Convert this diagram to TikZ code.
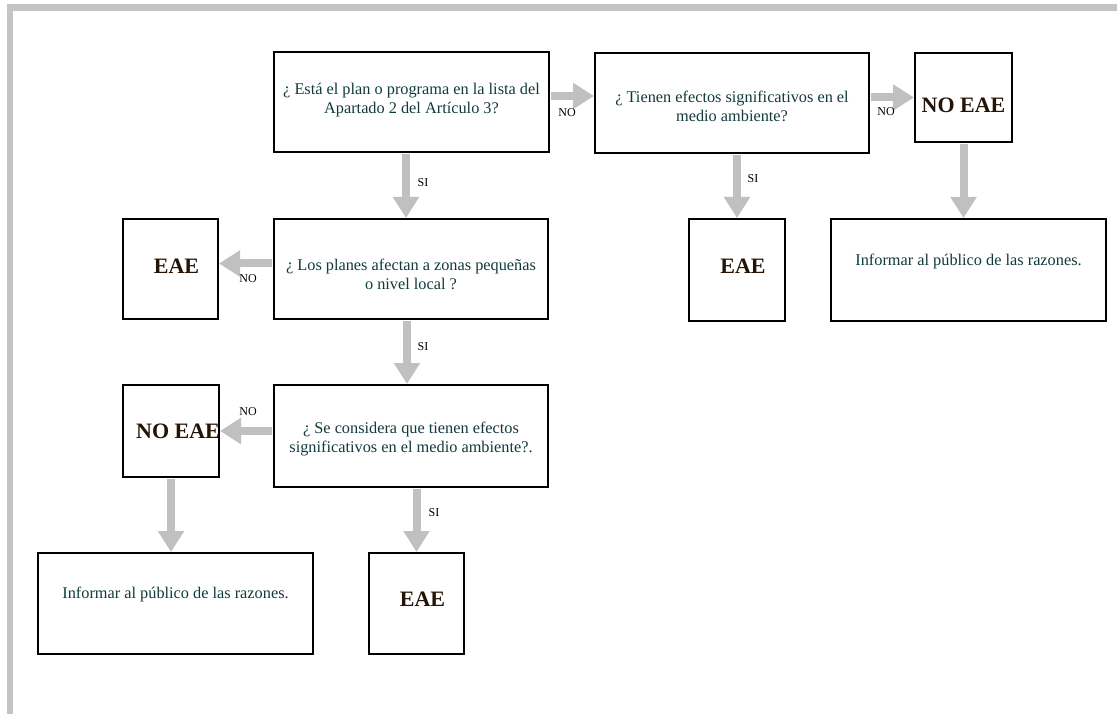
\documentclass[tikz,border=0pt]{standalone}
\usepackage{fontspec}
\setmainfont{Liberation Serif}
\usetikzlibrary{arrows.meta}

\definecolor{framegray}{RGB}{196,196,196}
\definecolor{flowgray}{RGB}{192,192,192}
\definecolor{qtext}{RGB}{18,58,60}
\definecolor{eaetext}{RGB}{35,20,5}

\begin{document}
\begin{tikzpicture}[x=1pt,y=-1pt,
  box/.style={draw=black, line width=2pt, inner sep=0pt, anchor=north west},
  qlabel/.style={text=qtext, font=\fontsize{16.3}{19}\selectfont, align=center, inner sep=0pt},
  verdict/.style={text=eaetext, font=\fontsize{22}{24}\selectfont\bfseries, inner sep=0pt},
  tag/.style={font=\fontsize{12}{13}\selectfont, inner sep=0pt},
  flow/.style={draw=flowgray, line width=8pt,
    -{Triangle[width=25pt,length=21pt]}, shorten <=1pt}]

% canvas and the grey page frame along the top and left
\useasboundingbox (0,0) rectangle (1117,714);
\fill[white] (0,0) rectangle (1117,714);
\fill[framegray] (7,4) rectangle (1117,11.5);
\fill[framegray] (7,4) rectangle (12.5,714);

% boxes
\node[box, minimum width=275pt, minimum height=100pt] (q1) at (273,51) {};
\node[box, minimum width=274pt, minimum height=100pt] (q2) at (594,52) {};
\node[box, minimum width=97pt,  minimum height=89pt]  (n1) at (914,52) {};
\node[box, minimum width=274pt, minimum height=100pt] (q3) at (273,218) {};
\node[box, minimum width=95pt,  minimum height=100pt] (e1) at (122,218) {};
\node[box, minimum width=274pt, minimum height=102pt] (q4) at (273,384) {};
\node[box, minimum width=96pt,  minimum height=92pt]  (n2) at (122,384) {};
\node[box, minimum width=275pt, minimum height=101pt] (i1) at (37,552) {};
\node[box, minimum width=95pt,  minimum height=101pt] (e3) at (368,552) {};
\node[box, minimum width=96pt,  minimum height=102pt] (e2) at (688,218) {};
\node[box, minimum width=275pt, minimum height=102pt] (i2) at (830,218) {};

% box texts
\node[qlabel] (t1) at ([yshift=2pt]q1.center) {¿ Está el plan o programa en la lista del\\Apartado 2 del Artículo 3?};
\node[qlabel] (t2) at ([yshift=-3pt]q2.center) {¿ Tienen efectos significativos en el\\medio ambiente?};
\node[qlabel] (t3) at ([yshift=-5pt]q3.center) {¿ Los planes afectan a zonas pequeñas\\o nivel local ?};
\node[qlabel] (t4) at ([yshift=-3pt]q4.center) {¿ Se considera que tienen efectos\\significativos en el medio ambiente?.};
\node[qlabel] (t5) at ([yshift=9pt]i1.center) {Informar al público de las razones.};
\node[qlabel] (t6) at ([yshift=9pt]i2.center) {Informar al público de las razones.};
\node[verdict] (v1) at ([yshift=-8pt]n1.center) {NO EAE};
\node[verdict] (v2) at ([xshift=7pt]n2.center) {NO EAE};
\node[verdict] (v3) at ([xshift=6pt,yshift=3pt]e1.center) {EAE};
\node[verdict] (v4) at ([xshift=6pt,yshift=4pt]e2.center) {EAE};
\node[verdict] (v5) at ([xshift=6pt,yshift=4pt]e3.center) {EAE};

% connectors
\draw[flow] ([yshift=6pt]q1.east) coordinate (s1) -- (s1 -| q2.west);
\draw[flow] ([yshift=5.5pt]q2.east) coordinate (s2) -- (s2 -| n1.west);
\draw[flow] ([yshift=5.5pt]q3.west) coordinate (s3) -- (s3 -| e1.east);
\draw[flow] ([yshift=5pt]q4.west) coordinate (s4) -- (s4 -| n2.east);
\draw[flow] ([xshift=-5.5pt]q1.south) coordinate (s5) -- (s5 |- q3.north);
\draw[flow] ([xshift=-4pt]q3.south) coordinate (s6) -- (s6 |- q4.north);
\draw[flow] (e3.north |- q4.south) -- (e3.north);
\draw[flow] (n2.south) -- (n2.south |- i1.north);
\draw[flow] (e2.north |- q2.south) -- (e2.north);
\draw[flow] (n1.south) -- (n1.south |- i2.north);

% connector labels
\node[tag] (l1) at (567,113) {NO};
\node[tag] (l2) at (886,112) {NO};
\node[tag] (l3) at (248,279) {NO};
\node[tag] (l4) at (248,412) {NO};
\node[tag] (l5) at (423,183) {SI};
\node[tag] (l6) at (423,347) {SI};
\node[tag] (l7) at (434,513) {SI};
\node[tag] (l8) at (753,179) {SI};
\end{tikzpicture}
\end{document}
